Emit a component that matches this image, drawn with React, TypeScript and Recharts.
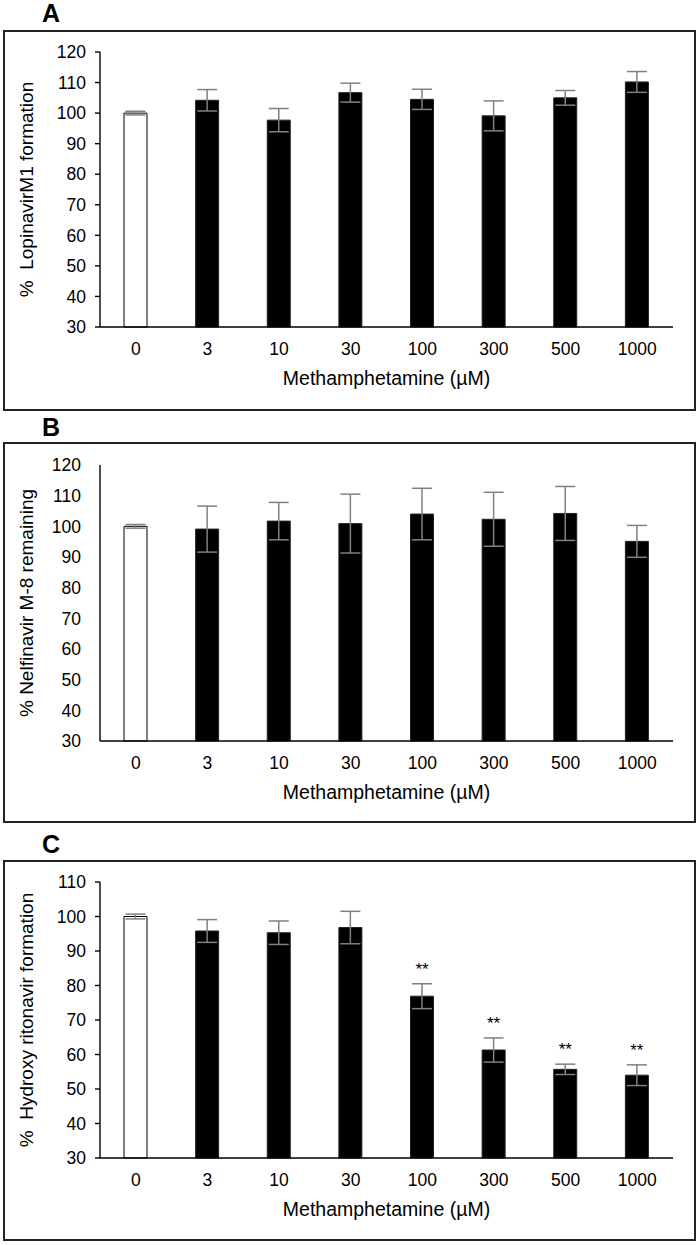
import React from "react";
import { ComposedChart, Bar, Cell, XAxis, YAxis, ErrorBar, LabelList, Label } from "recharts";

const concentrations = ["0", "3", "10", "30", "100", "300", "500", "1000"];

const lopinavirMean = [100, 104.2, 97.7, 106.7, 104.5, 99.1, 105, 110.2];
const lopinavirErr = [0.6, 3.5, 3.8, 3.1, 3.3, 4.9, 2.4, 3.4];

const nelfinavirMean = [100, 99.1, 101.7, 100.9, 104, 102.3, 104.2, 95.1];
const nelfinavirErr = [0.6, 7.5, 6.1, 9.6, 8.4, 8.8, 8.8, 5.2];

const ritonavirMean = [100, 95.8, 95.3, 96.8, 76.9, 61.3, 55.7, 54];
const ritonavirErr = [0.7, 3.3, 3.4, 4.7, 3.6, 3.5, 1.5, 3];
const ritonavirSig = [false, false, false, false, true, true, true, true];

const ticksTo120 = [30, 40, 50, 60, 70, 80, 90, 100, 110, 120];
const ticksTo110 = [30, 40, 50, 60, 70, 80, 90, 100, 110];

const FONT = "'Liberation Sans', Arial, sans-serif";
const W = 693;
const H = 381;

type PanelProps = {
  top: number;
  plotTop: number;
  plotBottom: number;
  mean: number[];
  err: number[];
  sig?: boolean[];
  yTicks: number[];
  yTitle: string;
  yTickLine: boolean;
};

function Panel({ top, plotTop, plotBottom, mean, err, sig, yTicks, yTitle, yTickLine }: PanelProps) {
  const data = concentrations.map((c, i) => ({
    conc: c,
    mean: mean[i],
    err: err[i],
    sig: sig ? sig[i] : false,
  }));
  const yMin = yTicks[0];
  const yMax = yTicks[yTicks.length - 1];

  return (
    <div style={{ position: "absolute", left: 3, top, width: W, height: H }}>
      <ComposedChart
        width={W}
        height={H}
        data={data}
        margin={{ top: plotTop, right: 23, bottom: 0, left: 0 }}
        barCategoryGap="0%"
      >
        <XAxis
          dataKey="conc"
          tickLine={false}
          tickSize={6}
          tickMargin={10}
          height={H - plotBottom}
          axisLine={{ stroke: "#000", strokeWidth: 1.4 }}
          tick={{ fill: "#000", fontSize: 17.5, fontFamily: FONT }}
          interval={0}
        >
          <Label
            content={(p: any) => {
              const vb = p.viewBox;
              return (
                <text
                  x={vb.x + vb.width / 2}
                  y={vb.y + 51}
                  textAnchor="middle"
                  dominantBaseline="central"
                  fontSize={19.5}
                  fontFamily={FONT}
                  fill="#000"
                >
                  Methamphetamine (µM)
                </text>
              );
            }}
          />
        </XAxis>
        <YAxis
          type="number"
          domain={[yMin, yMax]}
          ticks={yTicks}
          interval={0}
          width={97}
          tickSize={5}
          tickMargin={yTickLine ? 9 : 14}
          tickLine={yTickLine ? { stroke: "#000", strokeWidth: 1.4 } : false}
          axisLine={{ stroke: "#000", strokeWidth: 1.4 }}
          tick={{ fill: "#000", fontSize: 17.5, fontFamily: FONT }}
        >
          <Label
            content={(p: any) => {
              const vb = p.viewBox;
              const cx = vb.x + 23;
              const cy = vb.y + vb.height / 2;
              return (
                <text
                  x={cx}
                  y={cy}
                  transform={`rotate(-90 ${cx} ${cy})`}
                  textAnchor="middle"
                  dominantBaseline="central"
                  fontSize={19}
                  fontFamily={FONT}
                  fill="#000"
                >
                  {yTitle}
                </text>
              );
            }}
          />
        </YAxis>
        <Bar dataKey="mean" barSize={23} isAnimationActive={false}>
          {data.map((d, i) => (
            <Cell
              key={d.conc}
              fill={i === 0 ? "#fff" : "#000"}
              stroke={i === 0 ? "#000" : "#222"}
              strokeWidth={1}
            />
          ))}
          <ErrorBar
            dataKey="err"
            width={10}
            stroke="#808080"
            strokeWidth={1.5}
            direction="y"
            isAnimationActive={false}
          />
          {sig && (
            <LabelList
              dataKey="mean"
              content={(p: any) => {
                const idx = p.index;
                if (idx == null || !data[idx] || !data[idx].sig) return null;
                const x = Number(p.x ?? p.viewBox?.x);
                const y = Number(p.y ?? p.viewBox?.y);
                const w = Number(p.width ?? p.viewBox?.width);
                const h = Number(p.height ?? p.viewBox?.height);
                const pxPerUnit = h / (data[idx].mean - yMin);
                const errTop = y - data[idx].err * pxPerUnit;
                return (
                  <text
                    x={x + w / 2}
                    y={errTop - 9}
                    textAnchor="middle"
                    fontSize={17}
                    fontFamily={FONT}
                    fill="#000"
                  >
                    **
                  </text>
                );
              }}
            />
          )}
        </Bar>
      </ComposedChart>
    </div>
  );
}

const frameTops = [30, 442, 860];
const panelLetters = ["A", "B", "C"];
const letterBaselines = [22, 436, 853];

export default function App() {
  return (
    <div
      style={{
        position: "fixed",
        left: 0,
        top: 0,
        width: 700,
        height: 1245,
        background: "#fff",
        overflow: "hidden",
      }}
    >
      <Panel
        top={frameTops[0]}
        plotTop={22}
        plotBottom={297}
        mean={lopinavirMean}
        err={lopinavirErr}
        yTicks={ticksTo120}
        yTitle={"%\u00a0 LopinavirM1 formation"}
        yTickLine={true}
      />
      <Panel
        top={frameTops[1]}
        plotTop={23}
        plotBottom={299}
        mean={nelfinavirMean}
        err={nelfinavirErr}
        yTicks={ticksTo120}
        yTitle="% Nelfinavir M-8 remaining"
        yTickLine={false}
      />
      <Panel
        top={frameTops[2]}
        plotTop={22}
        plotBottom={298}
        mean={ritonavirMean}
        err={ritonavirErr}
        sig={ritonavirSig}
        yTicks={ticksTo110}
        yTitle={"%\u00a0 Hydroxy ritonavir formation"}
        yTickLine={true}
      />
      <svg
        width={700}
        height={1245}
        style={{ position: "absolute", left: 0, top: 0, pointerEvents: "none" }}
      >
        {frameTops.map((t, i) => (
          <g key={panelLetters[i]}>
            <rect x={4} y={t + 1} width={W - 2} height={H - 2} fill="none" stroke="#222" strokeWidth={2} />
            <text
              x={51}
              y={letterBaselines[i]}
              textAnchor="middle"
              fontSize={25}
              fontWeight="bold"
              fontFamily={FONT}
              fill="#000"
            >
              {panelLetters[i]}
            </text>
          </g>
        ))}
      </svg>
    </div>
  );
}
